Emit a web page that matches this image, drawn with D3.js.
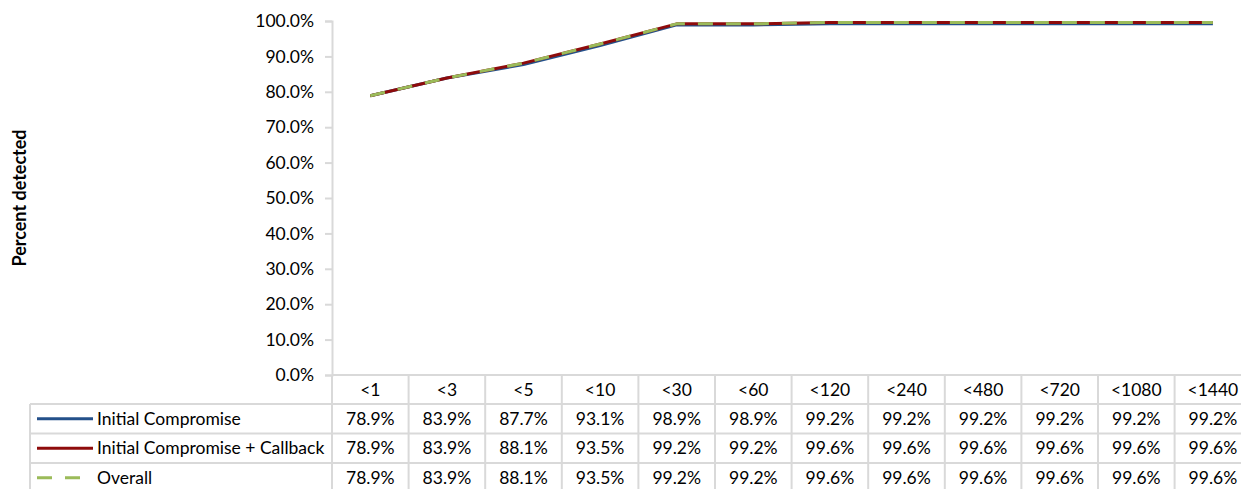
<!DOCTYPE html>
<html>
<head>
<meta charset="utf-8">
<script src="https://cdn.jsdelivr.net/npm/d3@7"></script>
<style>
html,body{margin:0;padding:0;background:#fff;overflow:hidden;}
svg{display:block;font-family:Lato,"Open Sans",sans-serif;}
</style>
</head>
<body>
<script>
const categories = ["<1","<3","<5","<10","<30","<60","<120","<240","<480","<720","<1080","<1440"];
const initialCompromise = [0.789,0.839,0.877,0.931,0.989,0.989,0.992,0.992,0.992,0.992,0.992,0.992];
const initialPlusCallback = [0.789,0.839,0.881,0.935,0.992,0.992,0.996,0.996,0.996,0.996,0.996,0.996];
const overall = [0.789,0.839,0.881,0.935,0.992,0.992,0.996,0.996,0.996,0.996,0.996,0.996];
const seriesNames = ["Initial Compromise","Initial Compromise + Callback","Overall"];
const yTicks = [0,0.1,0.2,0.3,0.4,0.5,0.6,0.7,0.8,0.9,1.0];

const W = 1241, H = 489;
const FS = 17.5;
const svg = d3.select("body").append("svg").attr("width", W).attr("height", H);

const left = 332, colW = 76.6;
const x = d3.scaleBand().domain(categories).range([left, left + colW * categories.length]);
const y = d3.scaleLinear().domain([0, 1]).range([375, 21]);

const grid = "#D9D9D9";
const series = [
  {name: seriesNames[0], values: initialCompromise, color: "#24508A", dash: null},
  {name: seriesNames[1], values: initialPlusCallback, color: "#8E0B0B", dash: null},
  {name: seriesNames[2], values: overall, color: "#9BBB59", dash: "15,13"}
];

// Y axis
const yAxis = d3.axisLeft(y).tickValues(yTicks).tickFormat(d3.format(".1%")).tickSize(7).tickPadding(11);
const ga = svg.append("g").attr("transform", `translate(${left},0)`).call(yAxis);
ga.select(".domain").attr("stroke", grid).attr("stroke-width", 2);
ga.selectAll(".tick line").attr("stroke", grid).attr("stroke-width", 2);
ga.selectAll(".tick text").attr("font-size", FS).attr("fill", "#000").attr("font-family", "Lato, sans-serif");

// Y title
svg.append("text")
  .attr("transform", `translate(26,${(y(0)+y(1))/2}) rotate(-90)`)
  .attr("text-anchor", "middle")
  .attr("font-size", 18).attr("font-weight", "bold")
  .text("Percent detected");

// Table geometry
const rowTops = [375, 404, 433.5, 463];
const rowH = 29.3;
const tableLeft = 30;
const tableRight = left + colW * categories.length;
const tg = svg.append("g");

tg.append("line").attr("x1", left).attr("x2", tableRight).attr("y1", rowTops[0]).attr("y2", rowTops[0]);
for (let i = 1; i < rowTops.length; i++) {
  tg.append("line").attr("x1", tableLeft).attr("x2", tableRight).attr("y1", rowTops[i]).attr("y2", rowTops[i]);
}
tg.append("line").attr("x1", tableLeft).attr("x2", tableRight).attr("y1", rowTops[3] + rowH).attr("y2", rowTops[3] + rowH);
tg.append("line").attr("x1", tableLeft).attr("x2", tableLeft).attr("y1", rowTops[1]).attr("y2", H + 5);
categories.forEach((c) => {
  const xx = x(c);
  tg.append("line").attr("x1", xx).attr("x2", xx).attr("y1", rowTops[0]).attr("y2", H + 5);
});
tg.append("line").attr("x1", tableRight).attr("x2", tableRight).attr("y1", rowTops[0]).attr("y2", H + 5);
tg.selectAll("line").attr("stroke", grid).attr("stroke-width", 2);

// category header
tg.selectAll("text.cat").data(categories).enter().append("text")
  .attr("x", d => x(d) + x.bandwidth() / 2)
  .attr("y", rowTops[0] + rowH / 2 + 6)
  .attr("text-anchor", "middle").attr("font-size", FS).text(d => d);

// value rows + legend
const fmt = d3.format(".1%");
series.forEach((s, si) => {
  const top = rowTops[si + 1];
  const cy = top + rowH / 2;
  categories.forEach((c, i) => {
    tg.append("text").attr("x", x(c) + x.bandwidth() / 2).attr("y", cy + 6)
      .attr("text-anchor", "middle").attr("font-size", FS).text(fmt(s.values[i]));
  });
  const ll = tg.append("line").attr("x1", 37).attr("x2", 93).attr("y1", cy).attr("y2", cy)
    .attr("stroke", s.color).attr("stroke-width", 3);
  if (s.dash) ll.attr("stroke-dasharray", s.dash);
  tg.append("text").attr("x", 97).attr("y", cy + 6).attr("font-size", FS).text(s.name);
});

// lines
const line = d3.line().x((d, i) => x(categories[i]) + x.bandwidth() / 2).y(d => y(d));
series.forEach(s => {
  const p = svg.append("path").datum(s.values).attr("d", line)
    .attr("fill", "none").attr("stroke", s.color).attr("stroke-width", 3)
    .attr("stroke-linejoin", "round");
  if (s.dash) p.attr("stroke-dasharray", s.dash);
});
</script>
</body>
</html>
